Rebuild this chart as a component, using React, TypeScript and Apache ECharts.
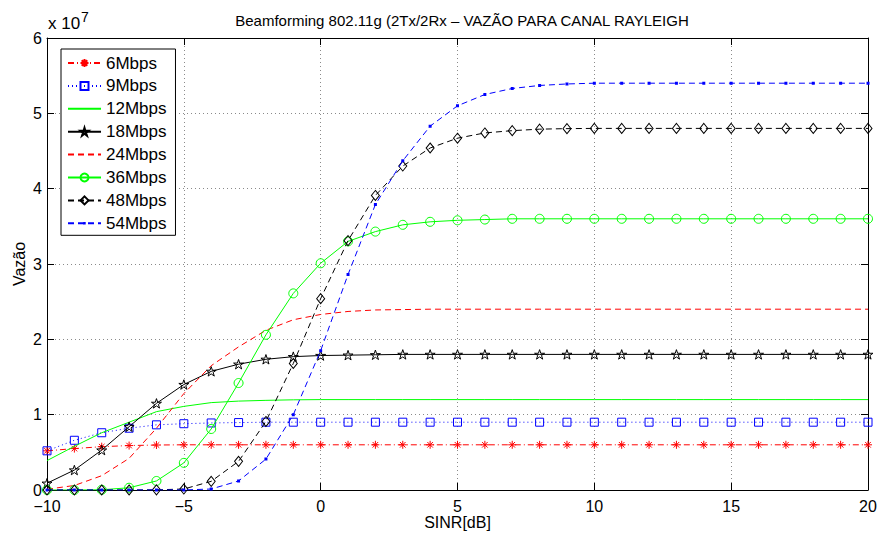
import { useEffect, useRef } from "react";
import * as echarts from "echarts";

// ---------- data (values in units of 10^7) ----------
const SCALE = 1e7;
const SINR = [-10, -9, -8, -7, -6, -5, -4, -3, -2, -1, 0, 1, 2, 3, 4, 5, 6, 7, 8, 9, 10, 11, 12, 13, 14, 15, 16, 17, 18, 19, 20];

const R6 = [0.52, 0.55, 0.575, 0.59, 0.597, 0.6, 0.6, 0.6, 0.6, 0.6, 0.6, 0.6, 0.6, 0.6, 0.6, 0.6, 0.6, 0.6, 0.6, 0.6, 0.6, 0.6, 0.6, 0.6, 0.6, 0.6, 0.6, 0.6, 0.6, 0.6, 0.6];
const R9 = [0.52, 0.66, 0.76, 0.82, 0.865, 0.88, 0.89, 0.895, 0.9, 0.9, 0.9, 0.9, 0.9, 0.9, 0.9, 0.9, 0.9, 0.9, 0.9, 0.9, 0.9, 0.9, 0.9, 0.9, 0.9, 0.9, 0.9, 0.9, 0.9, 0.9, 0.9];
const R12 = [0.39, 0.58, 0.76, 0.9, 1.04, 1.11, 1.16, 1.18, 1.19, 1.197, 1.2, 1.2, 1.2, 1.2, 1.2, 1.2, 1.2, 1.2, 1.2, 1.2, 1.2, 1.2, 1.2, 1.2, 1.2, 1.2, 1.2, 1.2, 1.2, 1.2, 1.2];
const R18 = [0.09, 0.265, 0.53, 0.84, 1.15, 1.4, 1.575, 1.67, 1.735, 1.77, 1.785, 1.79, 1.795, 1.8, 1.8, 1.8, 1.8, 1.8, 1.8, 1.8, 1.8, 1.8, 1.8, 1.8, 1.8, 1.8, 1.8, 1.8, 1.8, 1.8, 1.8];
const R24 = [0.01, 0.06, 0.19, 0.42, 0.82, 1.28, 1.65, 1.9, 2.12, 2.26, 2.33, 2.37, 2.39, 2.395, 2.4, 2.4, 2.4, 2.4, 2.4, 2.4, 2.4, 2.4, 2.4, 2.4, 2.4, 2.4, 2.4, 2.4, 2.4, 2.4, 2.4];
const R36 = [0.0, 0.0, 0.003, 0.03, 0.12, 0.36, 0.81, 1.42, 2.06, 2.61, 3.01, 3.3, 3.43, 3.52, 3.56, 3.58, 3.59, 3.6, 3.6, 3.6, 3.6, 3.6, 3.6, 3.6, 3.6, 3.6, 3.6, 3.6, 3.6, 3.6, 3.6];
const R48 = [0, 0, 0, 0, 0.002, 0.013, 0.115, 0.38, 0.91, 1.68, 2.54, 3.31, 3.91, 4.3, 4.54, 4.67, 4.74, 4.77, 4.79, 4.797, 4.8, 4.8, 4.8, 4.8, 4.8, 4.8, 4.8, 4.8, 4.8, 4.8, 4.8];
const R54 = [0, 0, 0, 0, 0, 0.001, 0.013, 0.12, 0.41, 1.0, 1.85, 2.86, 3.79, 4.37, 4.83, 5.1, 5.25, 5.33, 5.37, 5.39, 5.4, 5.4, 5.4, 5.4, 5.4, 5.4, 5.4, 5.4, 5.4, 5.4, 5.4];

const NAMES = ["6Mbps", "9Mbps", "12Mbps", "18Mbps", "24Mbps", "36Mbps", "48Mbps", "54Mbps"];
const VALUES = [R6, R9, R12, R18, R24, R36, R48, R54];

const X_MIN = -10;
const X_MAX = 20;
const X_STEP = 5;
const Y_MIN = 0;
const Y_MAX = 6;
const Y_STEP = 1;

const TITLE = "Beamforming 802.11g (2Tx/2Rx \u2013 VAZ\u00c3O PARA CANAL RAYLEIGH";
const X_NAME = "SINR[dB]";
const Y_NAME = "Vaz\u00e3o";

// ---------- styles ----------
const FONT = "'Liberation Sans', Arial, Helvetica, sans-serif";
const STAR = "path://M0,-100L22.45,-30.9L95.1,-30.9L36.3,11.8L58.8,80.9L0,38.2L-58.8,80.9L-36.3,11.8L-95.1,-30.9L-22.45,-30.9Z";
const ASTERISK = "path://M0,-10L0,10M-10,0L10,0M-7,-7L7,7M-7,7L7,-7";
// small dot inside a larger (practically invisible) bounding box, so the legend icon stays small too
const DOT = "path://M-10,-10L-9.95,-10L-9.95,-9.95ZM10,10L9.95,10L9.95,9.95ZM-3,-3L3,-3L3,3L-3,3Z";

const STYLES: any[] = [
  { color: "#ff0000", type: [6, 3, 1, 3], symbol: ASTERISK, size: 8, hollow: true, legendHide: false },
  { color: "#0000ff", type: [1, 3], symbol: "rect", size: 8, hollow: true, legendHide: false },
  { color: "#00ff00", type: "solid", symbol: "none", size: 0, hollow: false, legendHide: true },
  { color: "#000000", type: "solid", symbol: STAR, size: 10, hollow: true, legendHide: false },
  { color: "#ff0000", type: [6, 4], symbol: "none", size: 0, hollow: false, legendHide: true },
  { color: "#00ff00", type: "solid", symbol: "circle", size: 9, hollow: true, legendHide: false },
  { color: "#000000", type: [6, 4], symbol: "diamond", size: [8, 10], hollow: true, legendHide: false },
  { color: "#0000ff", type: [6, 4], symbol: DOT, size: 10, hollow: false, legendHide: false },
];

export default function App() {
  const ref = useRef<HTMLDivElement>(null);
  useEffect(() => {
    if (!ref.current) return;
    const chart = echarts.init(ref.current, null, { renderer: "svg" });

    const series = NAMES.map((name, i) => {
      const s = STYLES[i];
      return {
        name,
        type: "line",
        xAxisIndex: 0,
        yAxisIndex: 0,
        data: SINR.map((x, k) => [x, VALUES[i][k] * SCALE]),
        symbol: s.symbol,
        symbolSize: s.size,
        symbolKeepAspect: true,
        showSymbol: s.symbol !== "none",
        lineStyle: { color: s.color, width: 1, type: s.type },
        itemStyle: s.hollow
          ? { color: "rgba(255,255,255,0)", borderColor: s.color, borderWidth: 1 }
          : { color: s.color, borderColor: s.color, borderWidth: 0 },
        emphasis: { disabled: true },
        z: 2 + i,
      };
    });

    const legendData = NAMES.map((name, i) =>
      STYLES[i].legendHide ? { name, itemStyle: { opacity: 0 } } : { name }
    );

    const axisCommon = {
      axisLine: { show: true, onZero: false, lineStyle: { color: "#000", width: 1 } },
      axisTick: { show: true, inside: true, length: 7, lineStyle: { color: "#000", width: 1 } },
    };

    chart.setOption({
      animation: false,
      backgroundColor: "#fff",
      textStyle: { fontFamily: FONT },
      title: {
        text: TITLE,
        left: 457,
        top: 8,
        textAlign: "center",
        textStyle: { fontSize: 15, fontWeight: "normal", color: "#000", fontFamily: FONT },
      },
      grid: { left: 47, right: 11, top: 38, bottom: 44, containLabel: false, outerBoundsMode: "none" },
      legend: {
        orient: "vertical",
        left: 61,
        top: 49,
        padding: [5, 9, 3, 6],
        itemWidth: 33,
        itemHeight: 10,
        itemGap: 4.9,
        backgroundColor: "#fff",
        borderColor: "#000",
        borderWidth: 1,
        borderRadius: 0,
        textStyle: { fontSize: 17, color: "#000", fontFamily: FONT, lineHeight: 18 },
        data: legendData,
      },
      xAxis: [
        {
          type: "value",
          min: X_MIN,
          max: X_MAX,
          interval: X_STEP,
          position: "bottom",
          ...axisCommon,
          axisLabel: {
            color: "#000",
            fontSize: 16,
            lineHeight: 14,
            fontFamily: FONT,
            margin: 9,
            formatter: (v: number) => String(v).replace("-", "\u2212"),
          },
          splitLine: { show: true, lineStyle: { color: "#8a8a8a", type: [1, 3], width: 1 } },
          name: X_NAME,
          nameLocation: "middle",
          nameGap: 24,
          nameMoveOverlap: false,
          nameTextStyle: { fontSize: 16, color: "#000", fontFamily: FONT },
        },
        {
          type: "value",
          min: X_MIN,
          max: X_MAX,
          interval: X_STEP,
          position: "top",
          ...axisCommon,
          axisLabel: { show: false },
          splitLine: { show: false },
        },
      ],
      yAxis: [
        {
          type: "value",
          min: Y_MIN * SCALE,
          max: Y_MAX * SCALE,
          interval: Y_STEP * SCALE,
          position: "left",
          ...axisCommon,
          axisLabel: {
            color: "#000",
            fontSize: 16,
            lineHeight: 12,
            fontFamily: FONT,
            margin: 5,
            formatter: (v: number) => String(Math.round(v / SCALE)),
          },
          splitLine: { show: true, lineStyle: { color: "#8a8a8a", type: [1, 3], width: 1 } },
          name: Y_NAME,
          nameLocation: "middle",
          nameGap: 20,
          nameMoveOverlap: false,
          nameTextStyle: { fontSize: 16, color: "#000", fontFamily: FONT },
        },
        {
          type: "value",
          min: Y_MIN * SCALE,
          max: Y_MAX * SCALE,
          interval: Y_STEP * SCALE,
          position: "right",
          ...axisCommon,
          axisLabel: { show: false },
          splitLine: { show: false },
        },
      ],
      graphic: [
        {
          type: "text",
          left: 48,
          top: 15,
          style: { text: "x 10", fontSize: 17, fill: "#000", fontFamily: FONT },
        },
        {
          type: "text",
          left: 81,
          top: 10,
          style: { text: "7", fontSize: 14, fill: "#000", fontFamily: FONT },
        },
      ],
      series,
    });
    return () => chart.dispose();
  }, []);
  return (
    <div
      ref={ref}
      style={{ position: "fixed", left: 0, top: 0, width: 879, height: 534 }}
    />
  );
}
